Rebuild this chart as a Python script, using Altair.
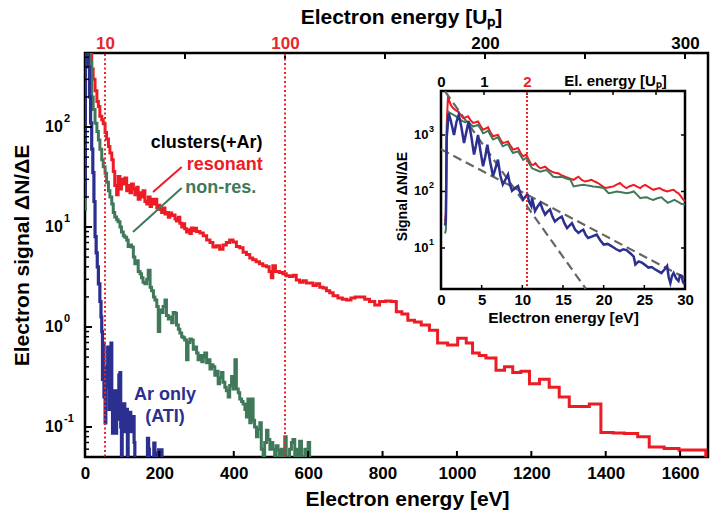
import altair as alt
import pandas as pd

FONT = "Liberation Sans"
RED = "#ed1c24"
GREEN = "#40795a"
BLUE = "#2b2f8f"
GRAY = "#666666"
DOT = "#e8262b"

W, H = 623, 404

# ---------------- main spectra (eV, dN/dE) ----------------
red_e = [0.6, 1, 5, 10, 13, 18, 22, 27, 32, 36, 40, 45, 49, 54, 58, 63, 67, 72, 76, 80, 85, 89, 94, 98,
         103, 107, 112, 116, 121, 125, 130, 134, 139, 143, 148, 152, 156, 161, 166, 170, 175, 179, 184,
         188, 193, 197, 201, 206, 210, 215, 219, 224, 228, 233, 237, 242, 246, 251, 255, 260, 264, 268,
         273, 277, 282, 286, 291, 295, 300, 309, 318, 327, 336, 344, 353, 362, 371, 380, 389, 398, 407,
         416, 425, 434, 443, 451, 460, 469, 478, 488, 495, 501, 505, 512, 523, 532, 541, 550, 559, 568,
         577, 586, 595, 604, 613, 622, 631, 640, 649, 658, 667, 680, 692, 703, 715, 726, 738, 752, 765,
         779, 792, 808, 823, 837, 852, 868, 886, 904, 926, 948, 975, 1002, 1025, 1042, 1060, 1078, 1105,
         1128, 1150, 1172, 1195, 1222, 1248, 1275, 1302, 1330, 1356, 1387, 1420, 1450, 1486, 1517, 1557,
         1597, 1640, 1669, 1676]
red_v = [40, 4500, 2000, 900, 600, 380, 300, 230, 180, 160, 128, 118, 108, 88, 76, 64, 55, 47, 36, 26,
         21, 32, 24, 30, 27, 31, 23, 26, 22, 27, 24, 21, 25, 19, 22, 20, 23, 18, 17, 20, 16, 19, 17, 19,
         15.5, 16.5, 15, 14, 15.5, 13.5, 14, 12.5, 13.8, 13, 13.2, 12, 11.5, 12.5, 10.9, 10, 10.8, 9.6,
         8.9, 9.4, 8.6, 9.8, 9.2, 9.7, 9.0, 8.7, 8.2, 7.4, 7.0, 6.3, 6.5, 6.0, 6.6, 7.0, 7.4, 7.1, 6.4,
         6.2, 5.6, 5.3, 4.9, 4.7, 4.5, 4.3, 4.1, 4.0, 3.6, 3.1, 4.1, 3.6, 3.5, 3.4, 3.25, 3.2, 3.3, 2.95,
         2.8, 2.9, 2.75, 2.75, 2.6, 2.7, 2.5, 2.45, 2.3, 2.2, 2.05, 1.95, 1.9, 1.86, 1.95, 2.0, 2.0, 1.9,
         1.8, 1.66, 1.8, 1.82, 1.8, 1.42, 1.35, 1.17, 1.12, 1.05, 0.93, 0.69, 0.66, 0.77, 0.69, 0.55,
         0.52, 0.49, 0.37, 0.40, 0.35, 0.36, 0.27, 0.30, 0.25, 0.20, 0.16, 0.16, 0.17, 0.088, 0.087,
         0.086, 0.080, 0.063, 0.061, 0.059, 0.059, 0.03, 0.03]

green_e = [0.5, 1, 5, 8, 13, 18, 22, 27, 32, 36, 40, 45, 49, 54, 58, 63, 67, 72, 76, 80, 85, 89, 94,
           98, 103, 107, 112, 116, 121, 125, 130, 134, 139, 143, 148, 152, 156, 161, 166, 170, 175, 179,
           184, 188, 193, 197, 201, 206, 210, 215, 219, 224, 228, 233, 237, 242, 246, 251, 255, 260,
           264, 268, 273, 277, 282, 286, 291, 295, 300, 304, 309, 314, 318, 322, 327, 331, 336, 340,
           344, 349, 353, 358, 362, 367, 371, 376, 380, 385, 389, 394, 398, 403, 407, 412, 416, 421,
           425, 430, 434, 438, 443, 447, 452, 456, 461, 465, 470, 474, 479, 483, 488, 492, 497, 501,
           505, 510, 514, 519, 523, 528, 532, 537, 541, 546, 550, 555, 559, 564, 568, 572, 577, 582,
           586, 591, 595, 600, 604, 608]
green_v = [15, 2600, 1500, 800, 450, 200, 150, 109, 90, 74, 60, 47, 40, 34.5, 28, 23, 20, 17, 14, 12.6,
           11.8, 11.3, 10, 8.9, 8.2, 7.9, 7.4, 6.4, 6.6, 6.3, 5.0, 4.3, 4.6, 3.6, 3.4, 3.1, 2.8, 2.7, 3.0,
           3.7, 2.5, 2.3, 2.0, 1.86, 1.6, 0.9, 1.48, 1.4, 1.6, 1.86, 1.3, 1.2, 1.26, 1.1, 1.4, 1.37,
           1.05, 0.95, 0.87, 0.8, 0.78, 0.74, 0.47, 0.7, 0.76, 0.74, 0.6, 0.63, 0.55, 0.47, 0.52, 0.45,
           0.50, 0.55, 0.44, 0.47, 0.38, 0.42, 0.40, 0.33, 0.36, 0.27, 0.31, 0.35, 0.28, 0.25, 0.23,
           0.20, 0.26, 0.32, 0.24, 0.47, 0.24, 0.22, 0.19, 0.18, 0.17, 0.15, 0.126, 0.19, 0.11, 0.19,
           0.117, 0.10, 0.08, 0.095, 0.11, 0.06, 0.03, 0.07, 0.093, 0.075, 0.06, 0.07, 0.06, 0.03,
           0.065, 0.059, 0.03, 0.06, 0.05, 0.08, 0.03, 0.045, 0.06, 0.07, 0.075, 0.03, 0.06, 0.045,
           0.072, 0.05, 0.03, 0.06, 0.05, 0.07, 0.03, 0.03]

blue_e = [0.5, 1, 3, 6, 9, 12, 15, 18, 21, 24, 27, 30, 33, 36, 40, 43, 45, 47, 49, 51, 54, 56, 58, 61,
          63, 65, 67, 70, 72, 74, 76, 78, 80, 83, 85, 87, 89, 91, 94, 96, 98, 100, 103, 105, 107, 110,
          112, 114, 116, 119, 121, 123, 125, 128, 130, 132, 134, 168, 171, 173, 185, 188, 190, 198, 201,
          204, 207, 213]
blue_v = [20, 2400, 1500, 700, 400, 200, 110, 60, 35, 18, 8, 5.5, 4.0, 2.7, 1.8, 1.26, 0.9, 0.3, 0.69,
          0.2, 0.11, 0.4, 0.25, 0.63, 0.3, 0.15, 0.4, 0.69, 0.2, 0.087, 0.23, 0.13, 0.23, 0.087, 0.15,
          0.2, 0.12, 0.33, 0.35, 0.1, 0.03, 0.17, 0.12, 0.17, 0.09, 0.15, 0.15, 0.03, 0.14, 0.1, 0.14,
          0.09, 0.127, 0.11, 0.127, 0.07, 0.03, 0.077, 0.06, 0.03, 0.069, 0.055, 0.03, 0.059, 0.05, 0.059,
          0.03, 0.03]

# ---------------- inset spectra (eV, dN/dE) ----------------
ired_e = [0.5, 0.6, 0.7, 0.85, 0.95, 1.2, 1.48, 1.8, 2.09, 2.4, 2.7, 3.0, 3.32, 3.6, 3.94, 4.25, 4.55,
          4.85, 5.17, 5.5, 5.78, 6.1, 6.4, 6.7, 7.0, 7.3, 7.6, 7.9, 8.24, 8.55, 8.86, 9.2, 9.47, 9.8,
          10.1, 10.3, 10.5, 10.8, 11.1, 11.35, 11.6, 11.9, 12.2, 12.5, 12.8, 13.2, 13.6, 14.0, 14.4,
          14.8, 15.25, 15.8, 16.3, 16.6, 16.9, 17.3, 17.7, 18.1, 18.5, 18.9, 19.3, 19.7, 20.2, 20.7,
          21.2, 21.6, 22.0, 22.4, 22.8, 23.2, 23.7, 24.1, 24.5, 24.8, 25.1, 25.6, 26.1, 26.5, 26.9,
          27.3, 27.8, 28.2, 28.6, 28.9, 29.2, 29.5, 29.8, 30.0]
ired_v = [30, 42, 1500, 4500, 4300, 3400, 3000, 2750, 2600, 2300, 2000, 2050, 2140, 1850, 1630, 1680,
          1740, 1450, 1240, 1300, 1370, 1100, 950, 980, 1000, 830, 720, 740, 770, 640, 550, 570, 590,
          480, 420, 435, 450, 360, 300, 295, 316, 280, 258, 265, 275, 245, 225, 215, 210, 195, 183, 170,
          161, 172, 183, 160, 150, 155, 161, 150, 141, 128, 115, 119, 123, 132, 141, 125, 115, 124, 131,
          122, 115, 125, 131, 118, 107, 112, 115, 106, 100, 104, 107, 98, 93, 82, 71, 68]

igreen_e = [0.5, 0.6, 0.7, 0.86, 1.1, 1.48, 1.8, 2.09, 2.4, 2.7, 3.0, 3.32, 3.6, 3.94, 4.25, 4.55, 4.85,
            5.17, 5.5, 5.78, 6.1, 6.4, 6.7, 7.0, 7.3, 7.6, 7.9, 8.24, 8.55, 8.86, 9.2, 9.47, 9.8, 10.1,
            10.3, 10.5, 10.8, 11.2, 11.7, 12.2, 12.6, 13.0, 13.4, 13.8, 14.3, 14.85, 15.4, 15.9, 16.3,
            16.9, 17.5, 18.1, 18.7, 19.3, 20.0, 20.6, 21.1, 21.6, 22.2, 22.8, 23.3, 23.7, 24.1, 24.5,
            24.9, 25.3, 25.7, 26.1, 26.6, 27.1, 27.5, 27.9, 28.3, 28.7, 29.2, 29.6, 30.0]
igreen_v = [18, 21, 800, 2600, 2450, 2300, 2150, 2000, 1850, 1740, 1680, 1740, 1560, 1410, 1460, 1510,
            1300, 1070, 1120, 1200, 980, 830, 870, 910, 750, 630, 660, 690, 560, 480, 500, 510, 430,
            363, 380, 398, 320, 257, 240, 224, 232, 240, 210, 182, 178, 182, 170, 162, 123, 128, 132,
            127, 123, 120, 115, 93, 96, 100, 97, 93, 96, 100, 88, 76, 78, 79, 74, 71, 76, 79, 70, 63, 67,
            71, 65, 60, 59]

iblue_e = [0.5, 0.6, 0.7, 0.94, 1.2, 1.6, 1.9, 2.18, 2.5, 2.83, 3.1, 3.4, 3.75, 4.06, 4.3, 4.55, 4.85,
           5.17, 5.45, 5.7, 6.05, 6.4, 6.7, 7.0, 7.3, 7.6, 7.9, 8.24, 8.5, 8.73, 9.1, 9.47, 9.8, 10.1,
           10.35, 10.6, 10.85, 11.1, 11.2, 11.56, 11.9, 12.2, 12.5, 12.8, 13.1, 13.4, 13.7, 14.0, 14.4,
           14.85, 15.2, 15.5, 15.8, 16.1, 16.5, 16.9, 17.2, 17.5, 17.8, 18.1, 18.6, 19.15, 19.6, 20.0,
           20.5, 21.0, 21.5, 22.0, 22.4, 22.8, 23.3, 23.7, 23.9, 24.3, 24.7, 25.1, 25.5, 25.9, 26.3,
           26.7, 27.1, 27.5, 27.8, 28.0, 28.2, 28.4, 28.6, 28.9, 29.2, 29.4, 29.6, 29.75, 29.9]
iblue_v = [25, 32, 900, 2450, 1800, 1000, 1700, 2280, 1400, 720, 1100, 1740, 900, 450, 650, 1000, 520,
           280, 420, 670, 330, 187, 260, 365, 190, 133, 160, 200, 130, 103, 115, 125, 88, 72, 80, 89,
           65, 55, 76, 45, 55, 63, 48, 39, 44, 48, 36, 29.5, 33, 36, 27, 22.4, 25, 27.5, 21, 18.5, 20,
           21, 17, 15, 16, 17.3, 13.5, 11.5, 11.8, 10.7, 9.6, 8.8, 9.5, 9.2, 8.0, 7.0, 5.1, 5.8, 5.5, 5.0,
           4.5, 4.6, 4.2, 3.9, 3.6, 4.2, 4.8, 3.0, 2.4, 3.2, 3.6, 2.9, 2.6, 3.3, 3.2, 2.5, 2.3]

# exponential guide lines in the inset (end points)
fit_name = ["steep", "steep", "slow", "slow"]
fit_e = [0.5, 17.8, 0.0, 30.0]
fit_v = [5900, 1.9, 560, 2.95]

# ---------------- axes / ticks / labels ----------------
main_x_ticks = [0, 200, 400, 600, 800, 1000, 1200, 1400, 1600]
main_y_major = [0.1, 1, 10, 100]
main_y_exp = ["-1", "0", "1", "2"]
main_y_minor = [0.06, 0.07, 0.08, 0.09, 0.2, 0.3, 0.4, 0.5, 0.6, 0.7, 0.8, 0.9, 2, 3, 4, 5, 6, 7, 8, 9,
                20, 30, 40, 50, 60, 70, 80, 90, 200, 300, 400, 500]
up_labels = [10, 100, 200, 300]
up_ticks = [50, 100, 150, 200, 250, 300]
up_marked = [10, 100]

inset_x_ticks = [0, 5, 10, 15, 20, 25, 30]
inset_y_major = [10, 100, 1000]
inset_y_exp = ["1", "2", "3"]
inset_up_labels = [0, 1, 2]
inset_up_ticks = [1, 2, 3, 4, 5]
inset_up_marked = [2]

# annotation texts (positions in data units of the main panel)
ann_text = ["clusters(+Ar)", "resonant", "non-res.", "Ar only", "(ATI)"]
ann_e = [327, 376, 365, 215, 215]
ann_v = [69, 41.7, 24.5, 0.209, 0.126]
ann_col = ["black", RED, GREEN, BLUE, BLUE]
ptr_e = [183, 129]
ptr_e2 = [260, 260]
ptr_v = [22.4, 8.9]
ptr_v2 = [39.8, 24.5]
ptr_col = [RED, GREEN]

# ---------------- frames ----------------
IX0, IX1 = 356, 600      # inset in view pixels (x)
IY0, IY1 = 236, 38       # inset in view pixels (y bottom, top)

bold = dict(font=FONT, fontWeight="bold")

# ---------- main panel encodings ----------
mx = alt.X("e:Q",
           scale=alt.Scale(domain=[0, 1675], nice=False, zero=False),
           axis=alt.Axis(values=main_x_ticks, format="d", domain=False, ticks=False, tickSize=0, grid=False,
                         labelFlush=False, labelOverlap=False,
                         labelFont=FONT, labelFontWeight="bold", labelFontSize=17, labelColor="black",
                         labelPadding=8,
                         title="Electron energy [eV]", titleFont=FONT, titleFontWeight="bold",
                         titleFontSize=21, titleColor="black", titleX=322, titleY=42,
                         titleBaseline="middle", titleAlign="center"))
my = alt.Y("v:Q",
           scale=alt.Scale(type="log", domain=[0.0501, 550], nice=False),
           axis=alt.Axis(labels=False, domain=False, ticks=False, tickSize=0, grid=False,
                         title="Electron signal ΔN/ΔE", titleFont=FONT, titleFontWeight="bold",
                         titleFontSize=21, titleColor="black", titleAngle=270, titleX=-63, titleY=202,
                         titleBaseline="middle", titleAlign="center"))

def series(e, v):
    return pd.DataFrame({"e": e, "v": v})

red_l = alt.Chart(series(red_e, red_v)).mark_line(
    interpolate="step-after", color=RED, strokeWidth=3, clip=True).encode(x=mx, y=my)
green_l = alt.Chart(series(green_e, green_v)).mark_line(
    interpolate="step-after", color=GREEN, strokeWidth=3, clip=True).encode(x=mx, y=my)
blue_l = alt.Chart(series(blue_e, blue_v)).mark_line(
    interpolate="step-after", color=BLUE, strokeWidth=3.2, clip=True).encode(x=mx, y=my)

ptr = alt.Chart(pd.DataFrame({"e": ptr_e, "e2": ptr_e2, "v": ptr_v, "v2": ptr_v2, "c": ptr_col})
                ).mark_rule(strokeWidth=2).encode(
    x=mx, x2="e2:Q", y=my, y2="v2:Q", color=alt.Color("c:N", scale=None))
ann = alt.Chart(pd.DataFrame({"e": ann_e, "v": ann_v, "t": ann_text, "c": ann_col})).mark_text(
    fontSize=18, align="center", baseline="middle", **bold).encode(
    x=mx, y=my, text="t:N", color=alt.Color("c:N", scale=None))

bt = alt.Chart(pd.DataFrame({"e": main_x_ticks[1:]})).mark_rule(color="black", strokeWidth=2).encode(
    x=mx, y=alt.value(H), y2=alt.value(H - 6))
lt_major = alt.Chart(pd.DataFrame({"v": main_y_major})).mark_rule(color="black", strokeWidth=2).encode(
    y=my, x=alt.value(0), x2=alt.value(7))
lt_minor = alt.Chart(pd.DataFrame({"v": main_y_minor})).mark_rule(color="black", strokeWidth=1.5).encode(
    y=my, x=alt.value(0), x2=alt.value(4))
ylab = alt.Chart(pd.DataFrame({"v": main_y_major, "t": ["10"] * 4})).mark_text(
    fontSize=16, align="left", baseline="middle", color="black", **bold).encode(
    y=my, x=alt.value(-40), text="t:N")
yexp = alt.Chart(pd.DataFrame({"v": main_y_major, "t": main_y_exp})).mark_text(
    fontSize=11, align="left", baseline="middle", color="black", dy=-8, **bold).encode(
    y=my, x=alt.value(-21), text="t:N")

main = alt.layer(red_l, green_l, blue_l, ptr, ann, bt, lt_major, lt_minor, ylab, yexp)

# ---------- top Up axis of the main panel ----------
ux = alt.X("u:Q",
           scale=alt.Scale(domain=[0, 311.5], nice=False, zero=False),
           axis=alt.Axis(orient="top", values=up_labels, domain=False, ticks=False, tickSize=0, grid=False,
                         labelFlush=False, labelOverlap=False,
                         labelFont=FONT, labelFontWeight="bold", labelFontSize=17, labelPadding=1,
                         labelColor={"condition": {"test": "datum.value <= 100", "value": DOT},
                                     "value": "black"},
                         title="Electron energy [Uₚ]", titleFont=FONT, titleFontWeight="bold",
                         titleFontSize=21, titleColor="black", titleX=316, titleY=-36,
                         titleBaseline="middle", titleAlign="center"))
up_t = alt.Chart(pd.DataFrame({"u": up_ticks})).mark_rule(color="black", strokeWidth=2).encode(
    x=ux, y=alt.value(0), y2=alt.value(6))
up_dot = alt.Chart(pd.DataFrame({"u": up_marked})).mark_rule(
    color=DOT, strokeWidth=2, strokeDash=[2, 2.5]).encode(x=ux, y=alt.value(1), y2=alt.value(H))
uplayer = alt.layer(up_t, up_dot)

# ---------- inset ----------
ix = alt.X("e:Q",
           scale=alt.Scale(domain=[0, 30], range=[IX0, IX1], nice=False, zero=False),
           axis=alt.Axis(orient="bottom", offset=IY0 - H, values=inset_x_ticks, domain=False, ticks=False,
                         tickSize=0, grid=False, labelFlush=False, labelOverlap=False,
                         labelFont=FONT, labelFontWeight="bold", labelFontSize=15, labelColor="black",
                         labelPadding=3,
                         title="Electron energy [eV]", titleFont=FONT, titleFontWeight="bold",
                         titleFontSize=15.5, titleColor="black", titleX=478, titleY=28,
                         titleBaseline="middle", titleAlign="center"))
iy = alt.Y("v:Q",
           scale=alt.Scale(type="log", domain=[1.88, 6000], range=[IY0, IY1], nice=False),
           axis=alt.Axis(orient="left", offset=-IX0, labels=False, domain=False, ticks=False, tickSize=0,
                         grid=False,
                         title="Signal ΔN/ΔE", titleFont=FONT, titleFontWeight="bold", titleFontSize=14,
                         titleColor="black", titleAngle=270, titleX=-39, titleY=143,
                         titleBaseline="middle", titleAlign="center"))

box = alt.Chart(pd.DataFrame({"e": [0], "e2": [30], "v": [1.88], "v2": [6000]})).mark_rect(
    fill="white", stroke="black", strokeWidth=2.5).encode(x=ix, x2="e2:Q", y=iy, y2="v2:Q")
fits = alt.Chart(pd.DataFrame({"f": fit_name, "e": fit_e, "v": fit_v})).mark_line(
    color=GRAY, strokeWidth=2.2, strokeDash=[9, 5]).encode(x=ix, y=iy, detail="f:N")
ired = alt.Chart(series(ired_e, ired_v)).mark_line(color=RED, strokeWidth=2).encode(x=ix, y=iy)
igreen = alt.Chart(series(igreen_e, igreen_v)).mark_line(color=GREEN, strokeWidth=2).encode(x=ix, y=iy)
iblue = alt.Chart(series(iblue_e, iblue_v)).mark_line(color=BLUE, strokeWidth=2.5).encode(x=ix, y=iy)
ibt = alt.Chart(pd.DataFrame({"e": inset_x_ticks[1:-1]})).mark_rule(color="black", strokeWidth=1.5).encode(
    x=ix, y=alt.value(IY0), y2=alt.value(IY0 - 4))
ilt = alt.Chart(pd.DataFrame({"v": inset_y_major})).mark_rule(color="black", strokeWidth=1.5).encode(
    y=iy, x=alt.value(IX0), x2=alt.value(IX0 + 4))
irt = alt.Chart(pd.DataFrame({"v": inset_y_major})).mark_rule(color="black", strokeWidth=1.5).encode(
    y=iy, x=alt.value(IX1), x2=alt.value(IX1 - 4))
iylab = alt.Chart(pd.DataFrame({"v": inset_y_major, "t": ["10"] * 3})).mark_text(
    fontSize=13, align="left", baseline="middle", color="black", **bold).encode(
    y=iy, x=alt.value(IX0 - 27), text="t:N")
iyexp = alt.Chart(pd.DataFrame({"v": inset_y_major, "t": inset_y_exp})).mark_text(
    fontSize=9, align="left", baseline="middle", color="black", dy=-6, **bold).encode(
    y=iy, x=alt.value(IX0 - 12), text="t:N")
inset = alt.layer(box, fits, ired, igreen, iblue, ibt, ilt, irt, iylab, iyexp)

# ---------- inset top Up axis ----------
iux = alt.X("u:Q",
            scale=alt.Scale(domain=[0, 5.674], range=[IX0, IX1], nice=False, zero=False),
            axis=alt.Axis(orient="top", offset=-IY1, values=inset_up_labels, domain=False, ticks=False,
                          tickSize=0, grid=False, labelFlush=False, labelOverlap=False,
                          labelFont=FONT, labelFontWeight="bold", labelFontSize=15, labelPadding=2,
                          labelColor={"condition": {"test": "datum.value == 2", "value": DOT},
                                      "value": "black"},
                          title="El. energy [Uₚ]", titleFont=FONT, titleFontWeight="bold",
                          titleFontSize=15, titleColor="black", titleX=530, titleY=-11,
                          titleBaseline="middle", titleAlign="center"))
iu_t = alt.Chart(pd.DataFrame({"u": inset_up_ticks})).mark_rule(color="black", strokeWidth=1.5).encode(
    x=iux, y=alt.value(IY1), y2=alt.value(IY1 + 4))
iu_dot = alt.Chart(pd.DataFrame({"u": inset_up_marked})).mark_rule(
    color=DOT, strokeWidth=2, strokeDash=[2, 2]).encode(x=iux, y=alt.value(IY1 + 1), y2=alt.value(IY0 - 1))
iuplayer = alt.layer(iu_t, iu_dot)

chart = alt.layer(main, uplayer, inset, iuplayer).resolve_scale(
    x="independent", y="independent"
).properties(
    width=W, height=H,
    autosize=alt.AutoSizeParams(type="none"),
    padding={"left": 85, "top": 53, "right": 2, "bottom": 58},
    background="white",
).configure_view(stroke="black", strokeWidth=2.5)

chart.save("out.html", embed_options={"renderer": "svg", "actions": False})
